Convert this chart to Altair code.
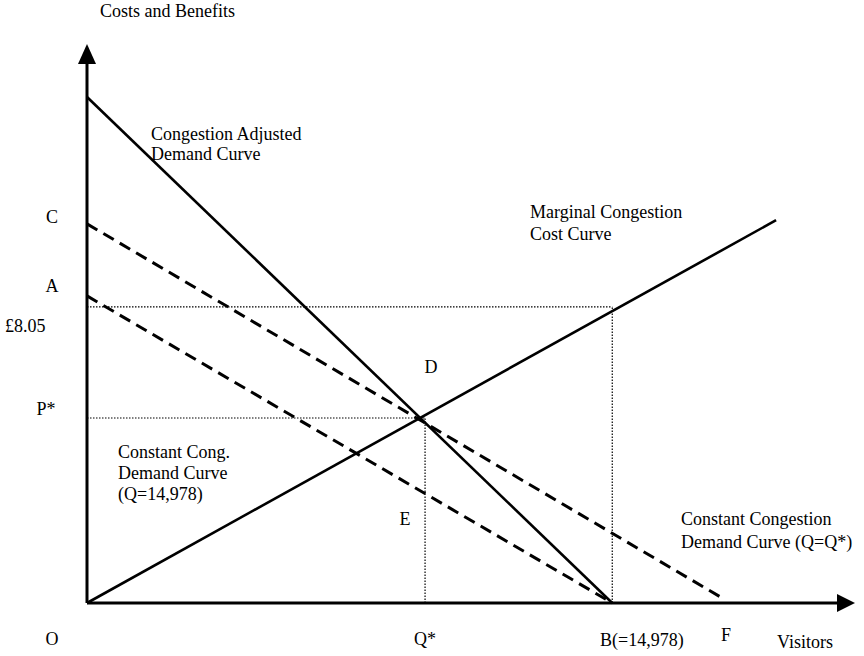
import altair as alt
import pandas as pd

# ---- data (x: visitors, y: £) ----
X_MAX = 21900
Y_MAX = 15.2

# Congestion adjusted demand curve
cad_q = [0, 14978]
cad_p = [13.76, 0]
# Marginal congestion cost curve
mcc_q = [0, 19650]
mcc_p = [0, 10.41]
# Constant congestion demand curve (Q=Q*)
ccq_q = [0, 18140]
ccq_p = [10.31, 0.12]
# Constant congestion demand curve (Q=14,978)
ccb_q = [0, 14978]
ccb_p = [8.35, 0]

Q_STAR = 9640
P_STAR = 5.03
B_Q = 14978
P_805 = 8.05

# labels
lab_text = ["Costs and Benefits", "Congestion Adjusted", "Demand Curve",
            "Marginal Congestion", "Cost Curve",
            "Constant Cong.", "Demand Curve", "(Q=14,978)",
            "Constant Congestion", "Demand Curve (Q=Q*)",
            "£8.05", "B(=14,978)", "Visitors"]
lab_x = [371, 1825, 1825, 12634, 12634, 884, 884, 884, 16941, 16941, -2339, 14631, 19679]
lab_y = [16.07, 12.73, 12.18, 10.60, 10.01, 4.08, 3.51, 2.94, 2.26, 1.63, 7.50, -1.03, -1.09]

clab_text = ["C", "A", "P*", "D", "E", "O", "Q*", "F"]
clab_x = [-998, -998, -1169, 9811, 9069, -998, 9640, 18224]
clab_y = [10.47, 8.59, 5.25, 6.39, 2.26, -1.01, -1.01, -0.90]

FONT = "Liberation Serif"
FS = 18

xs = alt.Scale(domain=[0, X_MAX], nice=False, zero=False)
ys = alt.Scale(domain=[0, Y_MAX], nice=False, zero=False)


def seg(q, p, name):
    return pd.DataFrame({"q": q, "p": p, "s": name})


def line_layer(df, width, dash=None):
    kw = dict(color="black", strokeWidth=width, strokeCap="butt")
    if dash:
        kw["strokeDash"] = dash
    return alt.Chart(df).mark_line(**kw).encode(
        x=alt.X("q:Q", scale=xs, axis=None),
        y=alt.Y("p:Q", scale=ys, axis=None),
        detail="s:N",
    )


solid = pd.concat([seg(cad_q, cad_p, "cad"), seg(mcc_q, mcc_p, "mcc")])
dashed = pd.concat([seg(ccq_q, ccq_p, "ccq"), seg(ccb_q, ccb_p, "ccb")])
dotted = pd.concat([
    seg([0, B_Q], [P_805, P_805], "h1"),
    seg([B_Q, B_Q], [0, P_805], "v1"),
    seg([0, Q_STAR], [P_STAR, P_STAR], "h2"),
    seg([Q_STAR, Q_STAR], [0, P_STAR], "v2"),
])
axes_df = pd.concat([
    seg([0, X_MAX * 0.985], [0, 0], "xa"),
    seg([0, 0], [0, Y_MAX * 0.98], "ya"),
])

arrow_up = alt.Chart(pd.DataFrame({"q": [0], "p": [Y_MAX]})).mark_point(
    shape="M0,0L-0.45,1L0.45,1Z", size=1600, filled=True, opacity=1,
    color="black", strokeWidth=0,
).encode(x=alt.X("q:Q", scale=xs, axis=None), y=alt.Y("p:Q", scale=ys, axis=None))
arrow_right = alt.Chart(pd.DataFrame({"q": [X_MAX], "p": [0]})).mark_point(
    shape="M0,0L-0.9,-0.45L-0.9,0.45Z", size=1600, filled=True, opacity=1,
    color="black", strokeWidth=0,
).encode(x=alt.X("q:Q", scale=xs, axis=None), y=alt.Y("p:Q", scale=ys, axis=None))

labels = alt.Chart(pd.DataFrame({"t": lab_text, "q": lab_x, "p": lab_y})).mark_text(
    font=FONT, fontSize=FS, align="left", baseline="middle", color="black"
).encode(x=alt.X("q:Q", scale=xs, axis=None), y=alt.Y("p:Q", scale=ys, axis=None), text="t:N")
clabels = alt.Chart(pd.DataFrame({"t": clab_text, "q": clab_x, "p": clab_y})).mark_text(
    font=FONT, fontSize=FS, align="center", baseline="middle", color="black"
).encode(x=alt.X("q:Q", scale=xs, axis=None), y=alt.Y("p:Q", scale=ys, axis=None), text="t:N")

chart = alt.layer(
    line_layer(dotted, 1.2, [1.5, 1.5]),
    line_layer(dashed, 3, [12, 7]),
    line_layer(solid, 2.6),
    line_layer(axes_df, 3),
    arrow_up,
    arrow_right,
    labels,
    clabels,
).properties(
    width=768, height=559,
    autosize=alt.AutoSizeParams(type="none"),
    padding={"left": 87, "top": 44, "right": 9, "bottom": 53},
    background="white",
).configure_view(stroke=None)

chart.save("out.html", embed_options={"renderer": "svg", "actions": False})
